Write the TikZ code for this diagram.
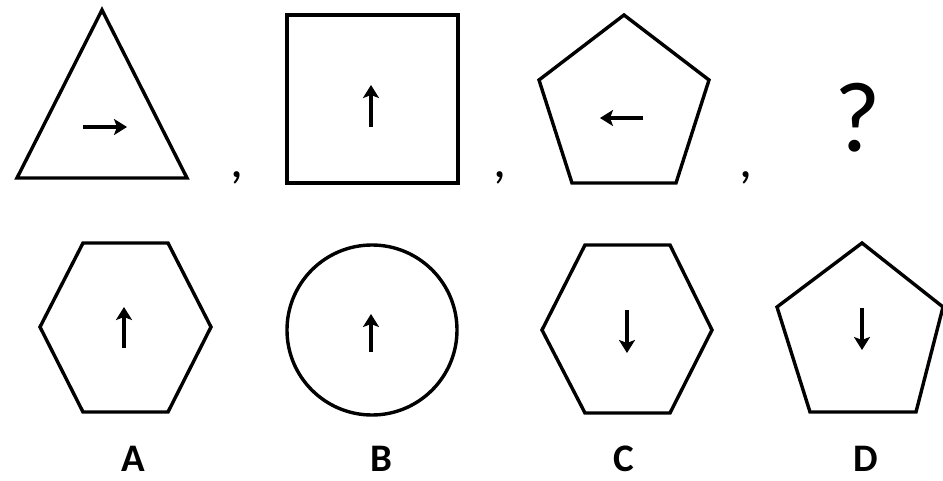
\documentclass[tikz,border=0pt]{standalone}
\usepackage{fontspec}
\setmainfont{Carlito}
\usetikzlibrary{arrows.meta}

\tikzset{
  figure/.style={line width=3.4pt, line join=miter},
  pointer/.style={line width=3.4pt, -{Stealth[length=13pt,width=16pt,inset=3pt]}},
  choice/.style={inner sep=0pt, anchor=base, text depth=0pt, font=\fontsize{39}{43}\selectfont\bfseries},
  sep/.style={inner sep=0pt, anchor=base, font=\fontsize{52}{56}\selectfont},
}

\begin{document}
\begin{tikzpicture}[x=1pt, y=-1pt]
    \useasboundingbox (0,0) rectangle (943,481);

    % top row
    \draw[figure] (102,10) -- (187,178) -- (17,178) -- cycle;
    \draw[pointer] (83,127) -- (127,127);
    \node[sep] (c1) at (237,178) {,};

    \draw[figure] (287,15) rectangle (458,183);
    \draw[pointer] (371,127) -- (371,85);
    \node[sep] (c2) at (500,178) {,};

    \draw[figure] (624,15) -- (709,80) -- (676,183) -- (572,183) -- (539,80) -- cycle;
    \draw[pointer] (643,118) -- (600,118);
    \node[sep] (c3) at (746,178) {,};

    \node[inner sep=0pt, anchor=base, text depth=0pt, font=\fontsize{100}{110}\selectfont] (q) at (858,152) {?};

    % answers
    \draw[figure] (83,243) -- (168,243) -- (211,327) -- (168,412) -- (83,412) -- (40,327) -- cycle;
    \draw[pointer] (124,348) -- (124,307);
    \draw[figure] (372,330) circle (85);
    \draw[pointer] (371,352) -- (371,314);
    \draw[figure] (585,245) -- (670,245) -- (712,330) -- (670,413) -- (585,413) -- (542,330) -- cycle;
    \draw[pointer] (627,310) -- (627,353);
    \draw[figure] (862,243) -- (943,307) -- (916,412) -- (810,412) -- (777,307) -- cycle;
    \draw[pointer] (862,308) -- (862,350);

    \node[choice] (A) at (133,471) {A};
    \node[choice] (B) at (381,471) {B};
    \node[choice] (C) at (624,471) {C};
    \node[choice] (D) at (866,471) {D};

\end{tikzpicture}
\end{document}
